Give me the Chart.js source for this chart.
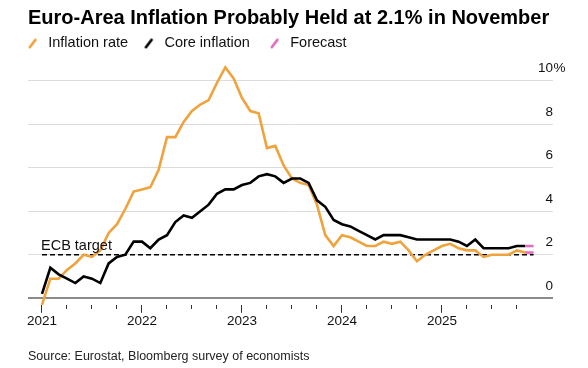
<!DOCTYPE html>
<html>
<head>
<meta charset="utf-8">
<script src="https://cdn.jsdelivr.net/npm/chart.js@4"></script>
<style>
  html, body { margin: 0; padding: 0; background: #fff; }
  #wrap { width: 588px; height: 368px; }
</style>
</head>
<body>
<div id="wrap"><canvas id="inflationChart" width="588" height="368"></canvas></div>
<script>
// month index 0 = Dec 2020 (plotted at the start of 2021), 59 = Nov 2025
const HEADLINE = [-0.3,
  0.9, 0.9, 1.3, 1.6, 2.0, 1.9, 2.2, 3.0, 3.4, 4.1, 4.9, 5.0,
  5.1, 5.9, 7.4, 7.4, 8.1, 8.6, 8.9, 9.1, 9.9, 10.6, 10.1, 9.2,
  8.6, 8.5, 6.9, 7.0, 6.1, 5.5, 5.3, 5.2, 4.3, 2.9, 2.4, 2.9,
  2.8, 2.6, 2.4, 2.4, 2.6, 2.5, 2.6, 2.2, 1.7, 2.0, 2.2, 2.4,
  2.5, 2.3, 2.2, 2.2, 1.9, 2.0, 2.0, 2.0, 2.2, 2.1, 2.1];
const CORE = [0.2,
  1.4, 1.1, 0.9, 0.7, 1.0, 0.9, 0.7, 1.6, 1.9, 2.0, 2.6, 2.6,
  2.3, 2.7, 2.9, 3.5, 3.8, 3.7, 4.0, 4.3, 4.8, 5.0, 5.0, 5.2,
  5.3, 5.6, 5.7, 5.6, 5.3, 5.5, 5.5, 5.3, 4.5, 4.2, 3.6, 3.4,
  3.3, 3.1, 2.9, 2.7, 2.9, 2.9, 2.9, 2.8, 2.7, 2.7, 2.7, 2.7,
  2.7, 2.6, 2.4, 2.7, 2.3, 2.3, 2.3, 2.3, 2.4, 2.4, 2.4];
const FORECAST_FROM = 58;          // last segment (Oct -> Nov 2025) is the survey forecast
const ECB_TARGET = 2;
const TICK_MONTHS = [0, 3, 6, 9, 12, 15, 18, 21, 24, 27, 30, 33, 36, 39, 42, 45, 48, 51, 54, 57];
const YEAR_LABELS = ['2021', '2022', '2023', '2024', '2025'];
const Y_TICKS = [0, 2, 4, 6, 8, 10];

const ORANGE = '#f0a33c';
const BLACK = '#000000';
const PINK = '#e46cc0';
const FONT = '"Liberation Sans", Arial, sans-serif';

// slanted stroke used as legend marker
function legendIcon(color) {
  const c = document.createElement('canvas');
  c.width = 13; c.height = 12;
  const g = c.getContext('2d');
  g.strokeStyle = color;
  g.lineWidth = 2.6;
  g.lineCap = 'round';
  g.beginPath();
  g.moveTo(1.8, 10);
  g.lineTo(7.4, 2.6);
  g.stroke();
  return c;
}

const toPoints = arr => arr.map((v, i) => ({ x: i, y: v }));
const forecastColor = base => ctx => ctx.p0DataIndex >= FORECAST_FROM ? PINK : base;

// extra room under the legend
const legendGap = {
  id: 'legendGap',
  beforeInit(chart) {
    const fit = chart.legend.fit;
    chart.legend.fit = function () {
      fit.bind(chart.legend)();
      this.height += 7;
    };
  }
};

// "ECB target" label and the % sign of the top tick
const annotations = {
  id: 'annotations',
  afterDatasetsDraw(chart) {
    const { ctx, chartArea } = chart;
    const x = chart.scales.x, y = chart.scales.y;
    ctx.save();
    ctx.fillStyle = '#111';
    ctx.font = '14.5px ' + FONT;
    ctx.textAlign = 'left';
    ctx.textBaseline = 'alphabetic';
    ctx.fillText('ECB target', x.getPixelForValue(0) - 1, y.getPixelForValue(ECB_TARGET) - 5);
    ctx.font = '13.5px ' + FONT;
    ctx.textBaseline = 'middle';
    ctx.fillText('%', chartArea.right + 0.5, y.getPixelForValue(Y_TICKS[Y_TICKS.length - 1]) - 12);
    ctx.restore();
  }
};

new Chart(document.getElementById('inflationChart'), {
  type: 'line',
  data: {
    datasets: [
      {
        label: 'Core inflation',
        data: toPoints(CORE),
        borderColor: BLACK,
        borderWidth: 2.6,
        segment: { borderColor: forecastColor(BLACK) },
        pointRadius: 0,
        clip: false
      },
      {
        label: 'Inflation rate',
        data: toPoints(HEADLINE),
        borderColor: ORANGE,
        borderWidth: 2.6,
        segment: { borderColor: forecastColor(ORANGE) },
        pointRadius: 0,
        clip: false
      },
      {
        label: 'ECB target',
        data: [{ x: 0, y: ECB_TARGET }, { x: HEADLINE.length - 1, y: ECB_TARGET }],
        borderColor: BLACK,
        borderWidth: 1.6,
        borderDash: [5, 3],
        pointRadius: 0
      }
    ]
  },
  options: {
    responsive: false,
    animation: false,
    layout: { autoPadding: false, padding: { left: 28, right: 35, top: 0, bottom: 0 } },
    plugins: {
      tooltip: { enabled: false },
      title: {
        display: true,
        text: 'Euro-Area Inflation Probably Held at 2.1% in November',
        align: 'start',
        color: '#000',
        font: { family: FONT, size: 20, weight: 'bold' },
        padding: { top: 6, bottom: 6 }
      },
      subtitle: {
        display: true,
        position: 'bottom',
        text: 'Source: Eurostat, Bloomberg survey of economists',
        align: 'start',
        color: '#222',
        font: { family: FONT, size: 12.5 },
        padding: { top: 20, bottom: 4 }
      },
      legend: {
        position: 'top',
        align: 'start',
        labels: {
          usePointStyle: true,
          pointStyleWidth: 13,
          padding: 0,
          color: '#111',
          font: { family: FONT, size: 14.5 },
          generateLabels: () => [
            { text: 'Inflation rate    ', pointStyle: legendIcon(ORANGE), fontColor: '#111', lineWidth: 0, strokeStyle: 'transparent', fillStyle: 'transparent', datasetIndex: 1 },
            { text: 'Core inflation     ', pointStyle: legendIcon(BLACK), fontColor: '#111', lineWidth: 0, strokeStyle: 'transparent', fillStyle: 'transparent', datasetIndex: 0 },
            { text: 'Forecast', pointStyle: legendIcon(PINK), fontColor: '#111', lineWidth: 0, strokeStyle: 'transparent', fillStyle: 'transparent' }
          ]
        }
      }
    },
    scales: {
      x: {
        type: 'linear',
        min: -1.68,
        max: 61.33,
        afterBuildTicks: s => { s.ticks = TICK_MONTHS.map(v => ({ value: v })); },
        border: { display: false },
        grid: {
          drawOnChartArea: false,
          drawTicks: true,
          tickLength: 8,
          tickColor: '#333',
          tickWidth: 1,
          tickBorderDash: ctx => ctx.tick && ctx.tick.value % 12 === 0 ? [] : [4, 20]
        },
        ticks: {
          autoSkip: false,
          maxRotation: 0,
          padding: 0,
          color: '#111',
          font: { family: FONT, size: 13.5 },
          callback: v => v % 12 === 0 ? YEAR_LABELS[v / 12] : ''
        }
      },
      y: {
        position: 'right',
        min: -0.3,
        max: 10.6,
        afterBuildTicks: s => { s.ticks = Y_TICKS.map(v => ({ value: v })); },
        border: { display: false },
        grid: {
          drawTicks: false,
          color: ctx => ctx.tick && ctx.tick.value === 0 ? '#8a8a8a' : '#dcdcdc',
          lineWidth: ctx => ctx.tick && ctx.tick.value === 0 ? 2 : 1
        },
        ticks: {
          mirror: true,
          padding: 0,
          labelOffset: -12,
          color: '#111',
          font: { family: FONT, size: 13.5 },
          callback: v => String(v)
        }
      }
    }
  },
  plugins: [legendGap, annotations]
});
</script>
</body>
</html>
